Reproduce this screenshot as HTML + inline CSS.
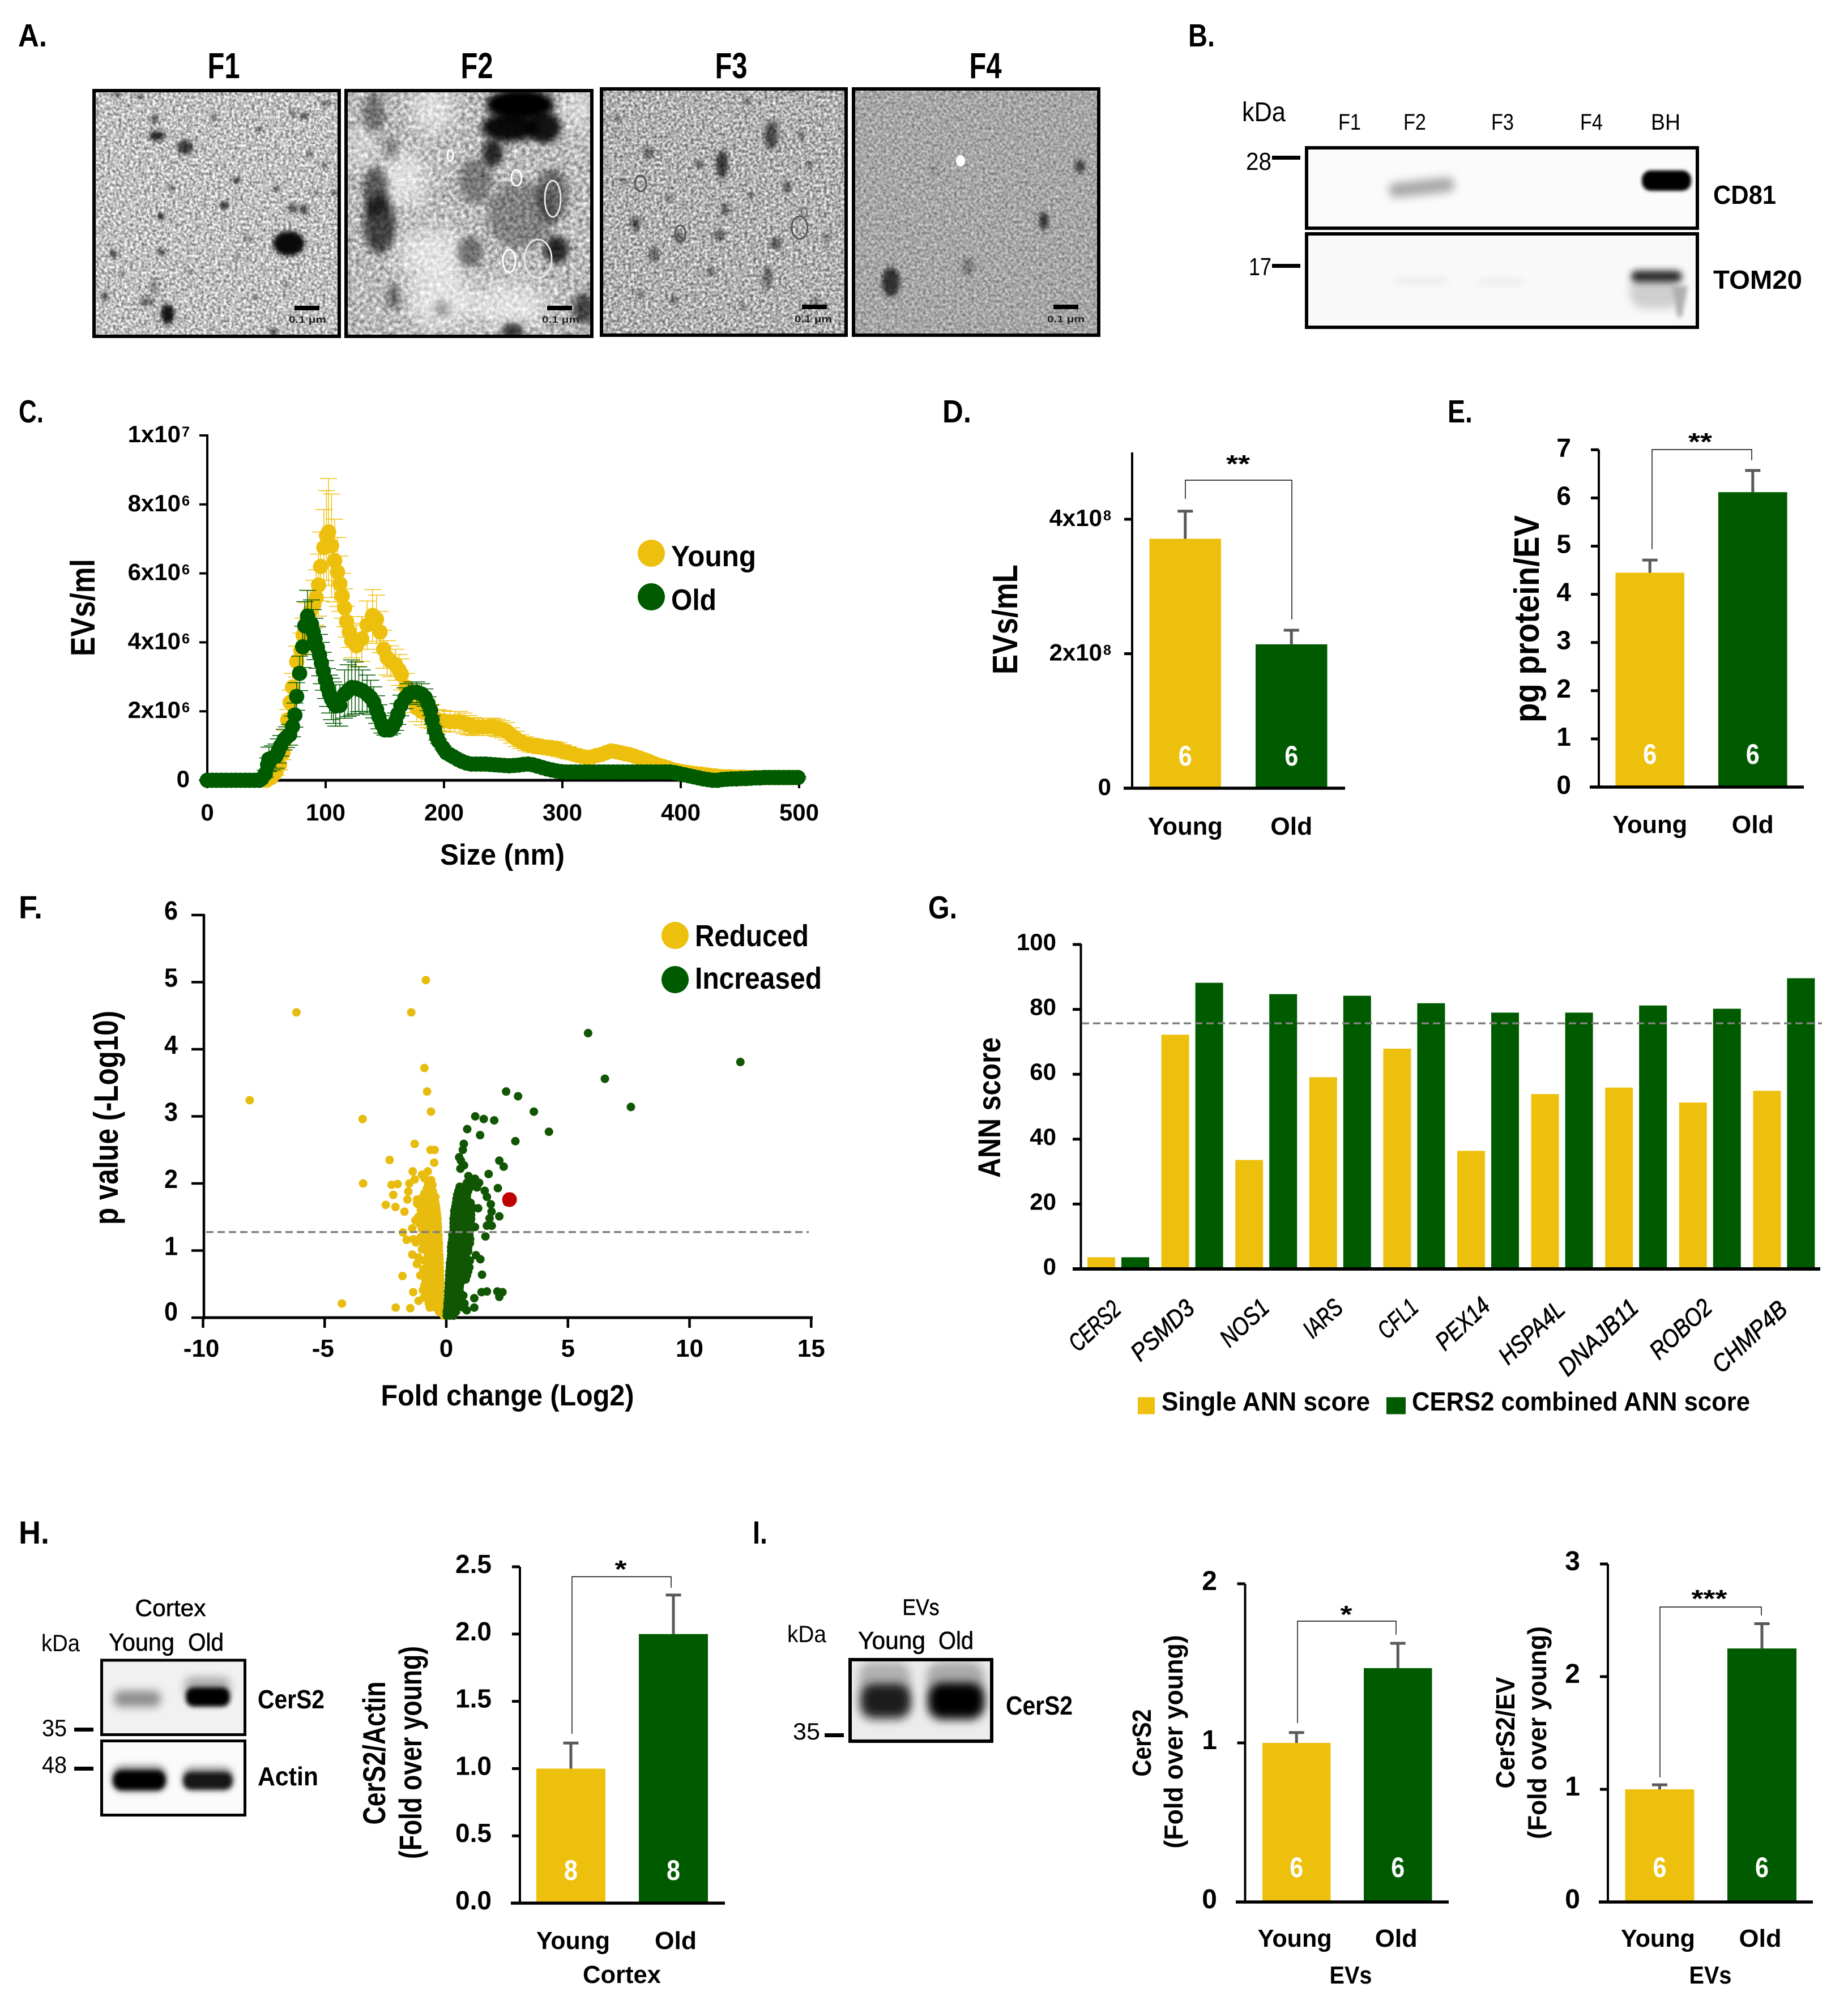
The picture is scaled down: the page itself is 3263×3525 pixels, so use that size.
<!DOCTYPE html>
<html lang="en"><head><meta charset="utf-8"><title>Extracellular vesicle figure panels A-I</title>
<style>
html,body{margin:0;padding:0;background:#fff}
svg{display:block;font-family:"Liberation Sans",sans-serif}
.b{font-weight:bold}
</style></head>
<body>
<svg id="fig" xmlns="http://www.w3.org/2000/svg" width="3263" height="3525" viewBox="0 0 3263 3525">
<defs>
<filter id="noise1" x="0" y="0" width="1" height="1" color-interpolation-filters="sRGB"><feTurbulence type="fractalNoise" baseFrequency="0.2" numOctaves="2" seed="3"/><feColorMatrix values="1.0 0 0 0 0.25 1.0 0 0 0 0.25 1.0 0 0 0 0.25 0 0 0 0 1"/></filter>
<filter id="noise2" x="0" y="0" width="1" height="1" color-interpolation-filters="sRGB"><feTurbulence type="fractalNoise" baseFrequency="0.14" numOctaves="2" seed="8"/><feColorMatrix values="0.8 0 0 0 0.33 0.8 0 0 0 0.33 0.8 0 0 0 0.33 0 0 0 0 1"/></filter>
<filter id="noise3" x="0" y="0" width="1" height="1" color-interpolation-filters="sRGB"><feTurbulence type="fractalNoise" baseFrequency="0.2" numOctaves="2" seed="14"/><feColorMatrix values="1.0 0 0 0 0.19 1.0 0 0 0 0.19 1.0 0 0 0 0.19 0 0 0 0 1"/></filter>
<filter id="noise4" x="0" y="0" width="1" height="1" color-interpolation-filters="sRGB"><feTurbulence type="fractalNoise" baseFrequency="0.2" numOctaves="2" seed="21"/><feColorMatrix values="0.6 0 0 0 0.35 0.6 0 0 0 0.35 0.6 0 0 0 0.35 0 0 0 0 1"/></filter>
<filter id="blur3" x="-80%" y="-80%" width="260%" height="260%"><feGaussianBlur stdDeviation="3"/></filter>
<filter id="blur4" x="-60%" y="-60%" width="220%" height="220%"><feGaussianBlur stdDeviation="4"/></filter>
<filter id="blur6" x="-60%" y="-60%" width="220%" height="220%"><feGaussianBlur stdDeviation="6"/></filter>
<filter id="blur8" x="-60%" y="-60%" width="220%" height="220%"><feGaussianBlur stdDeviation="8"/></filter>
<filter id="blur18" x="-80%" y="-80%" width="260%" height="260%"><feGaussianBlur stdDeviation="18"/></filter>
<clipPath id="clipF1"><rect x="166" y="160" width="433" height="434"/></clipPath>
<clipPath id="clipF2"><rect x="611" y="160" width="434" height="434"/></clipPath>
<clipPath id="clipF3"><rect x="1062" y="157" width="432" height="435"/></clipPath>
<clipPath id="clipF4"><rect x="1507" y="157" width="433" height="435"/></clipPath>
<clipPath id="clipBlotB1"><rect x="2307" y="261" width="690" height="142"/></clipPath>
<clipPath id="clipBlotB2"><rect x="2307" y="413" width="690" height="165"/></clipPath>
<clipPath id="clipBlotH1"><rect x="180" y="2932" width="252" height="131"/></clipPath>
<clipPath id="clipBlotH2"><rect x="180" y="3075" width="252" height="130"/></clipPath>
<clipPath id="clipBlotI"><rect x="1501" y="2931" width="250" height="144"/></clipPath>
</defs>
<rect width="3263" height="3525" fill="#fff"/>

<!-- Panel letters -->
<text class="b" x="32" y="82" font-size="57" textLength="51" lengthAdjust="spacingAndGlyphs">A.</text>
<text class="b" x="2098" y="82" font-size="57" textLength="47" lengthAdjust="spacingAndGlyphs">B.</text>
<text class="b" x="33" y="746" font-size="57" textLength="44" lengthAdjust="spacingAndGlyphs">C.</text>
<text class="b" x="1664" y="746" font-size="57" textLength="51" lengthAdjust="spacingAndGlyphs">D.</text>
<text class="b" x="2556" y="746" font-size="57" textLength="44" lengthAdjust="spacingAndGlyphs">E.</text>
<text class="b" x="33" y="1622" font-size="57" textLength="42" lengthAdjust="spacingAndGlyphs">F.</text>
<text class="b" x="1639" y="1622" font-size="57" textLength="51" lengthAdjust="spacingAndGlyphs">G.</text>
<text class="b" x="33" y="2726" font-size="57" textLength="54" lengthAdjust="spacingAndGlyphs">H.</text>
<text class="b" x="1329" y="2726" font-size="57" textLength="26" lengthAdjust="spacingAndGlyphs">I.</text>

<!-- Panel A -->
<g>
<text class="b" x="395" y="138" font-size="64" text-anchor="middle" textLength="57" lengthAdjust="spacingAndGlyphs">F1</text>
<text class="b" x="842" y="138" font-size="64" text-anchor="middle" textLength="57" lengthAdjust="spacingAndGlyphs">F2</text>
<text class="b" x="1291" y="138" font-size="64" text-anchor="middle" textLength="57" lengthAdjust="spacingAndGlyphs">F3</text>
<text class="b" x="1740" y="138" font-size="64" text-anchor="middle" textLength="57" lengthAdjust="spacingAndGlyphs">F4</text>
<g id="temF1" clip-path="url(#clipF1)"><rect x="166" y="160" width="433" height="434" filter="url(#noise1)"/></g>
<g id="temF2" clip-path="url(#clipF2)"><rect x="611" y="160" width="434" height="434" filter="url(#noise2)"/></g>
<g id="temF3" clip-path="url(#clipF3)"><rect x="1062" y="157" width="432" height="435" filter="url(#noise3)"/></g>
<g id="temF4" clip-path="url(#clipF4)"><rect x="1507" y="157" width="433" height="435" filter="url(#noise4)"/></g>
<rect x="166" y="160" width="433" height="434" fill="none" stroke="#000" stroke-width="6"/>
<rect x="611" y="160" width="434" height="434" fill="none" stroke="#000" stroke-width="6"/>
<rect x="1062" y="157" width="432" height="435" fill="none" stroke="#000" stroke-width="6"/>
<rect x="1507" y="157" width="433" height="435" fill="none" stroke="#000" stroke-width="6"/>
<rect x="520" y="540" width="44" height="8"/>
<text class="b" x="543" y="570" font-size="17" text-anchor="middle" textLength="66" lengthAdjust="spacingAndGlyphs" fill="#222">0.1 μm</text>
<rect x="966" y="540" width="44" height="8"/>
<text class="b" x="990" y="570" font-size="17" text-anchor="middle" textLength="66" lengthAdjust="spacingAndGlyphs" fill="#222">0.1 μm</text>
<rect x="1416" y="538" width="44" height="8"/>
<text class="b" x="1436" y="569" font-size="17" text-anchor="middle" textLength="66" lengthAdjust="spacingAndGlyphs" fill="#222">0.1 μm</text>
<rect x="1860" y="538" width="44" height="8"/>
<text class="b" x="1882" y="569" font-size="17" text-anchor="middle" textLength="66" lengthAdjust="spacingAndGlyphs" fill="#222">0.1 μm</text>
</g>

<!-- Panel B -->
<g>
<text x="2193" y="214" font-size="48" textLength="77" lengthAdjust="spacingAndGlyphs">kDa</text>
<text x="2383" y="229" font-size="40" text-anchor="middle" textLength="40" lengthAdjust="spacingAndGlyphs">F1</text>
<text x="2498" y="229" font-size="40" text-anchor="middle" textLength="40" lengthAdjust="spacingAndGlyphs">F2</text>
<text x="2653" y="229" font-size="40" text-anchor="middle" textLength="40" lengthAdjust="spacingAndGlyphs">F3</text>
<text x="2810" y="229" font-size="40" text-anchor="middle" textLength="40" lengthAdjust="spacingAndGlyphs">F4</text>
<text x="2941" y="229" font-size="40" text-anchor="middle" textLength="52" lengthAdjust="spacingAndGlyphs">BH</text>
<rect x="2307" y="261" width="690" height="142" fill="#fbfbfb"/>
<rect x="2307" y="413" width="690" height="165" fill="#f9f9f9"/>
<g clip-path="url(#clipBlotB1)">
<rect x="2452" y="318" width="116" height="26" rx="12" fill="#a8a8a8" filter="url(#blur8)" transform="rotate(-6 2510 331)"/>
<rect x="2899" y="301" width="87" height="36" rx="16" fill="#000" filter="url(#blur3)"/>
</g>
<g clip-path="url(#clipBlotB2)">
<rect x="2465" y="490" width="90" height="12" rx="5" fill="#ebebeb" filter="url(#blur6)"/>
<rect x="2610" y="492" width="80" height="12" rx="5" fill="#ececec" filter="url(#blur6)"/>
<rect x="2878" y="485" width="90" height="60" rx="25" fill="#cfcfcf" filter="url(#blur8)"/>
<rect x="2880" y="478" width="90" height="20" rx="10" fill="#2a2a2a" filter="url(#blur6)"/>
<polygon points="2952,505 2980,505 2970,560 2962,560" fill="#b0b0b0" filter="url(#blur4)"/>
</g>
<rect x="2307" y="261" width="690" height="142" fill="none" stroke="#000" stroke-width="6"/>
<rect x="2307" y="413" width="690" height="165" fill="none" stroke="#000" stroke-width="6"/>
<text x="2200" y="300" font-size="44" textLength="45" lengthAdjust="spacingAndGlyphs">28</text>
<rect x="2246" y="275" width="50" height="7"/>
<text x="2205" y="486" font-size="44" textLength="40" lengthAdjust="spacingAndGlyphs">17</text>
<rect x="2246" y="466" width="50" height="7"/>
<text class="b" x="3025" y="360" font-size="46" textLength="111" lengthAdjust="spacingAndGlyphs">CD81</text>
<text class="b" x="3025" y="510" font-size="46" textLength="157" lengthAdjust="spacingAndGlyphs">TOM20</text>
</g>

<!-- Panel H blot -->
<g>
<text x="301" y="2854" font-size="42" text-anchor="middle" textLength="125" lengthAdjust="spacingAndGlyphs" stroke="#000" stroke-width="0.6">Cortex</text>
<text x="73" y="2916" font-size="42" textLength="68" lengthAdjust="spacingAndGlyphs">kDa</text>
<text x="192" y="2915" font-size="44" textLength="116" lengthAdjust="spacingAndGlyphs" stroke="#000" stroke-width="0.6">Young</text>
<text x="332" y="2915" font-size="44" textLength="63" lengthAdjust="spacingAndGlyphs" stroke="#000" stroke-width="0.6">Old</text>
<rect x="180" y="2932" width="252" height="131" fill="#f1f1f1"/>
<rect x="180" y="3075" width="252" height="130" fill="#fbfbfb"/>
<g clip-path="url(#clipBlotH1)">
<rect x="201" y="2986" width="83" height="28" rx="12" fill="#8c8c8c" filter="url(#blur8)"/>
<rect x="326" y="2962" width="80" height="36" rx="12" fill="#a8a8a8" filter="url(#blur8)"/>
<rect x="328" y="2980" width="78" height="34" rx="14" fill="#000" filter="url(#blur4)"/>
</g>
<g clip-path="url(#clipBlotH2)">
<rect x="198" y="3118" width="96" height="46" rx="18" fill="#888" filter="url(#blur6)"/>
<rect x="200" y="3127" width="92" height="34" rx="15" fill="#040404" filter="url(#blur4)"/>
<rect x="322" y="3120" width="90" height="42" rx="18" fill="#999" filter="url(#blur6)"/>
<rect x="324" y="3130" width="86" height="30" rx="13" fill="#141414" filter="url(#blur4)"/>
</g>
<rect x="179.5" y="2932" width="253" height="131.5" fill="none" stroke="#000" stroke-width="5"/>
<rect x="179.5" y="3074.5" width="253" height="131" fill="none" stroke="#000" stroke-width="5"/>
<text x="74" y="3066" font-size="42" textLength="44" lengthAdjust="spacingAndGlyphs">35</text>
<rect x="131" y="3051" width="34" height="7"/>
<text x="74" y="3131" font-size="42" textLength="44" lengthAdjust="spacingAndGlyphs">48</text>
<rect x="131" y="3120" width="34" height="7"/>
<text class="b" x="455" y="3017" font-size="46" textLength="118" lengthAdjust="spacingAndGlyphs">CerS2</text>
<text class="b" x="455" y="3153" font-size="46" textLength="107" lengthAdjust="spacingAndGlyphs">Actin</text>
</g>

<!-- Panel I blot -->
<g>
<text x="1626" y="2852" font-size="40" text-anchor="middle" textLength="65" lengthAdjust="spacingAndGlyphs" stroke="#000" stroke-width="0.6">EVs</text>
<text x="1390" y="2900" font-size="42" textLength="69" lengthAdjust="spacingAndGlyphs">kDa</text>
<text x="1515" y="2912" font-size="44" textLength="119" lengthAdjust="spacingAndGlyphs" stroke="#000" stroke-width="0.6">Young</text>
<text x="1657" y="2912" font-size="44" textLength="62" lengthAdjust="spacingAndGlyphs" stroke="#000" stroke-width="0.6">Old</text>
<rect x="1501" y="2931" width="250" height="144" fill="#ececec"/>
<g clip-path="url(#clipBlotI)">
<rect x="1516" y="2935" width="92" height="105" rx="25" fill="#b0b0b0" filter="url(#blur8)"/>
<rect x="1521" y="2974" width="86" height="58" rx="22" fill="#1a1a1a" filter="url(#blur8)"/>
<rect x="1636" y="2935" width="102" height="105" rx="25" fill="#aaa" filter="url(#blur8)"/>
<rect x="1640" y="2972" width="97" height="62" rx="24" fill="#000" filter="url(#blur8)"/>
</g>
<rect x="1501" y="2931" width="250" height="144" fill="none" stroke="#000" stroke-width="6"/>
<text x="1400" y="3072" font-size="42" textLength="48" lengthAdjust="spacingAndGlyphs">35</text>
<rect x="1456" y="3061" width="34" height="7"/>
<text class="b" x="1776" y="3028" font-size="46" textLength="118" lengthAdjust="spacingAndGlyphs">CerS2</text>
</g>

<g id="charts"></g>
</svg>

<script>
/* ---------- Panel C data (size in nm, values in units of 1e6 EVs/ml) ---------- */
const cXTicks=[0,100,200,300,400,500];
const cYTicks=[0,2,4,6,8,10];
const cYTickLabels=['0','2x10^6','4x10^6','6x10^6','8x10^6','1x10^7'];
const youngSizes=[50,54,58,61,64,66,68,70,72,75.5,79,81,84,87,90,92,94,95.7,98.5,100.7,102.5,105,107.6,110,112,114,116,117.7,120,122,126,130.5,135,139.6,143,146,149,152,155,159,162,164,168,172.6,177,181,186,190,195,200,
205,209,213,217,221,225,229,233,237,241,245,249,253,
257,261,265,269,273,277,281,285,289,293,297,301,305,309,313,317,321,
325,329,333,337,341,345,349,353,357,361,365,369,373,377,381,385,389,393,397,401,405,409,413,417,421,425,429,433,437,441,445,449,453,457,461,465,469,473,477,481,485,489,493,497];
const youngValues=[0,.08,.25,.45,.8,1.2,1.75,2.26,2.7,3.44,3.77,4.2,4.6,4.9,5.1,5.3,5.66,6.2,6.75,7.1,7.2,6.8,6.37,6.04,5.7,5.35,5,4.6,4.3,4.05,3.9,4.1,4.5,4.78,4.67,4.3,3.8,3.55,3.45,3.35,3.2,3.07,2.7,2.36,2.1,2,1.93,1.85,1.75,1.72,
1.7,1.7,1.7,1.65,1.6,1.56,1.55,1.55,1.55,1.55,1.52,1.48,1.42,
1.3,1.2,1.12,1.06,1.02,1,.97,.96,.94,.92,.89,.84,.8,.76,.72,.69,.66,
.68,.72,.75,.8,.85,.83,.8,.77,.74,.7,.65,.6,.55,.49,.44,.4,.36,.31,.28,.25,.23,.21,.19,.18,.16,.14,.13,.11,.1,.1,.09,.09,.09,.08,.08,.08,.08,.08,.08,.08,.08,.08,.08,.08];
const youngErrors=[0,.05,.1,.15,.2,.25,.3,.35,.4,.45,.5,.5,.55,.6,.7,.8,.9,1,1.1,1.3,1.55,1.5,1.2,1,.8,.65,.55,.45,.45,.5,.6,.65,.7,.75,.7,.6,.55,.5,.45,.45,.45,.45,.4,.4,.4,.4,.4,.35,.3,.3,
.3,.3,.3,.3,.28,.26,.25,.25,.25,.25,.25,.25,.25,
.22,.22,.2,.2,.2,.2,.2,.2,.2,.2,.2,.19,.18,.16,.13,.1,.08,
.08,.08,.08,.09,.1,.1,.1,.09,.08,.08,.08,.08,.08,.08,.08,.08,.07,.07,.06,.06,.05,.05,.05,.05,.04,.04,.04,.03,.03,.03,.03,.03,.03,.03,.02,.02,.02,.02,.02,.02,.02,.02,.02,.02];
const oldSizes=[0,4,8,12,16,20,24,28,32,36,40,44,
46,49,51,52,55,58,60,62,65,67,69.6,72,74,75.5,78,80.6,82.4,84.7,88,89.5,91,93,94.8,96.4,98,99.8,101.6,103.3,105,106.7,108.5,112,116,119,122,125,128,131,135,138,140.6,143,145,147.5,150,154,156.5,159,161,163.5,167,170,173,177,181,184,186.5,188.6,190,192,194,195.5,199,202,
205,208,211.5,215,219,223,227,231,235,239,243,247,251,255,259,263,267,271,275,279,283,287,291,295,299,303,
307,311,315,319,323,327,331,335,339,343,347,351,355,359,363,367,371,375,379,383,387,391,
395,399,403,407,411,415,419,423,427,431,435,439,443,447,451,455,459,463,467,471,475,479,483,487,491,495,499];
const oldValues=[0,0,0,0,0,0,0,0,0,0,0,0,
.05,.19,.45,.61,.65,.7,.85,1,1.18,1.25,1.32,1.56,1.89,2.43,3.1,3.87,4.48,4.76,4.53,4.3,4.1,3.85,3.63,3.4,3.16,2.92,2.69,2.5,2.36,2.25,2.17,2.17,2.5,2.6,2.69,2.68,2.64,2.6,2.5,2.4,2.26,2.05,1.84,1.62,1.46,1.46,1.55,1.7,1.92,2.17,2.38,2.5,2.55,2.55,2.5,2.4,2.22,2.03,1.75,1.46,1.25,1.13,.95,.8,
.74,.68,.61,.55,.5,.47,.47,.47,.47,.46,.45,.44,.43,.42,.43,.44,.46,.47,.45,.41,.37,.33,.3,.27,.25,.24,
.24,.24,.24,.24,.24,.24,.24,.24,.24,.24,.24,.24,.24,.24,.24,.24,.24,.24,.24,.24,.24,.24,
.22,.19,.16,.13,.1,.07,.04,.02,0,0,.02,.03,.04,.04,.05,.05,.06,.07,.07,.08,.08,.08,.08,.08,.08,.08,.08];
const oldErrors=[0,0,0,0,0,0,0,0,0,0,0,0,
.03,.1,.2,.35,.35,.35,.35,.3,.3,.3,.3,.3,.35,.4,.5,.6,.7,.75,.7,.65,.6,.6,.6,.6,.55,.55,.55,.55,.6,.6,.6,.6,.7,.75,.8,.75,.65,.6,.55,.5,.45,.4,.35,.25,.15,.15,.2,.25,.3,.3,.3,.3,.3,.3,.3,.25,.2,.15,.12,.1,.08,.06,.05,.05,
.05,.05,.05,.04,.04,.04,.04,.04,.04,.04,.04,.04,.04,.04,.04,.04,.04,.04,.04,.04,.03,.03,.03,.03,.03,.03,
.03,.03,.03,.03,.03,.03,.03,.03,.03,.03,.03,.03,.03,.03,.03,.03,.03,.03,.03,.03,.03,.03,
.03,.03,.03,.03,.03,.03,.03,.03,.03,.03,.03,.03,.03,.03,.03,.03,.03,.03,.03,.03,.03,.03,.03,.03,.03,.03,.03];

/* ---------- Panel D ---------- */
const dCategories=['Young','Old'];
const dValues=[3.71,2.14];
const dErrors=[.41,.21];
const dCounts=['6','6'];
const dTicks=[0,2,4];
const dTickLabels=['0','2x10^8','4x10^8'];

/* ---------- Panel E ---------- */
const eCategories=['Young','Old'];
const eValues=[4.45,6.12];
const eErrors=[.26,.45];
const eCounts=['6','6'];
const eTicks=[0,1,2,3,4,5,6,7];
const eTickLabels=['0','1','2','3','4','5','6','7'];

/* ---------- Panel F ---------- */
const fXTicks=[-10,-5,0,5,10,15];
const fYTicks=[0,1,2,3,4,5,6];
const fThreshold=1.275;
const reducedFC=[-.84,-6.16,-1.44,-8.08,-.9,-.79,-.63,-3.44,-1.3,-.65,-.48,-2.33,-.5,-3.42,-4.29,-2.08,-1.48,
-1.36,-1.14,-.96,-1.07,-1.8,-1.21,-1.4,-1.15,-1.63,-1.36,-1.25,-1.78,-1.4,-1.27,-1.72,-2.09,-2.49,-2.18,-2.25,-2,-1.56,-1.6,-1.52,-1.3,-1.38,-1,-.9,-.76,-.57,-1.2,-.9,-.5,
-.1,-.12,-.3,-.25,-.45,-.68,-.28,-.5,-.72,-.25,-.48,-.7,-.27,-.5,-.72,-.25,-.47,-.7,-.25,-.48,-.7,-.25,-.5,-.72,-.25,-.47,-.7,-.26,-.5,-.73,-.26,-.48,-.7,-.27,-.5,-.72,-.27,-.5,-.75,-.28,-.5,-.73,-.28,-.52,-.75,-.3,-.55,-.8,-.3,-.53,-.8,-.3,-.55,-.85,-.32,-.55,-.8,-.32,-.55,-.85,-.34,-.58,-.9,-.34,-.6,-.85,-.36,-.6,-.9,-.36,-.62,-.9,-.38,-.62,-.95,-.4,-.65,-.95,-.42,-.7,-1.05,-.45,-.7,-1,-.48,-.75,-1.05,-.55,-.9,
-1,-.95,-1.05,-1,-1.1,-1.15,-1.05,-1.2,-.95,-1,-.92,-.9,-.88,-.95,-.9,-.85,-.8,-.55,-.6,-.42,-.45,-.85,-.75,-.62];
const reducedP=[5.03,4.55,4.55,3.24,3.72,3.37,3.07,2.96,2.59,2.5,2.5,2.35,2.31,2,.21,.15,.14,
.38,.25,.41,.63,.62,.8,.94,.9,1.16,1.17,1.12,1.27,1.33,1.45,1.58,1.65,1.68,1.83,1.98,1.99,1.88,1.76,2,2.06,2.18,2.13,2.08,2.18,1.98,1.76,1.85,1.78,
.03,.09,.09,.15,.15,.15,.21,.21,.21,.27,.27,.27,.33,.33,.33,.39,.39,.39,.45,.45,.45,.51,.51,.51,.57,.57,.57,.63,.63,.63,.69,.69,.69,.75,.75,.75,.81,.81,.81,.87,.87,.87,.93,.93,.93,.99,.99,.99,1.05,1.05,1.05,1.11,1.11,1.11,1.17,1.17,1.17,1.23,1.23,1.23,1.29,1.29,1.29,1.35,1.35,1.35,1.41,1.41,1.41,1.47,1.47,1.47,1.53,1.53,1.53,1.59,1.59,1.59,1.65,1.65,1.65,1.71,1.71,1.71,1.77,1.77,1.77,1.83,1.83,
1.02,1.12,1.2,1.32,1.4,1.5,1.6,1.7,1.8,1.52,.3,.48,.62,.72,.85,.55,1.92,1.88,1.95,1.62,1.8,1.75,2,2.05];
const increasedFC=[5.83,12.09,6.52,7.59,2.46,2.95,3.6,4.22,1.19,1.54,1.97,.86,1.39,2.84,.72,.68,.53,.6,.73,.58,2.18,2.36,1.74,2.12,.91,1.18,1.35,1.26,1.58,1.67,1.83,1.86,1.78,1.67,1.87,2.18,1.61,1.31,1.18,1.22,1.4,.97,1.47,1.45,1.67,2.1,2.31,2.18,1.15,1.15,.84,2.5,
.02,.15,.3,.02,.2,.4,.05,.25,.45,.7,.05,.25,.45,.75,.07,.27,.5,.08,.3,.5,.7,.08,.3,.55,.1,.3,.55,.1,.32,.58,.12,.35,.6,.8,.12,.35,.6,.85,.13,.38,.62,.9,.15,.4,.65,.95,.15,.4,.68,.18,.42,.65,.2,.42,.65,.8,.2,.45,.7,.9,.2,.45,.7,.9,.22,.48,.72,.97,.25,.5,.75,.98,.25,.5,.75,.95,.3,.52,.75,.95,.3,.52,.75,1,.3,.55,.8,1,.3,.55,.8,1.02,.33,.55,.8,1.02,.33,.58,.82,1.02,.37,.6,.85,1.05,.4,.62,.82,1,.42,.62,.85,.45,.65,.85,.5,.7,.9,.55,.72,1,.85,1.1];
const increasedP=[4.24,3.81,3.56,3.14,3.37,3.3,3.07,2.77,3,2.96,2.94,2.81,2.72,2.63,2.59,2.5,2.39,2.34,2.27,2.22,2.34,2.25,2.14,1.93,2.11,2.07,2.01,1.94,1.89,1.8,1.69,1.58,1.48,1.37,1.37,1.51,1.21,1.63,1.35,.93,.87,.85,.64,.38,.39,.39,.38,.31,.29,.15,.11,1.72,
.03,.03,.03,.09,.09,.09,.15,.15,.15,.15,.21,.21,.21,.21,.27,.27,.27,.33,.33,.33,.33,.39,.39,.39,.45,.45,.45,.51,.51,.51,.57,.57,.57,.57,.63,.63,.63,.63,.69,.69,.69,.69,.75,.75,.75,.75,.81,.81,.81,.87,.87,.87,.93,.93,.93,.93,.99,.99,.99,.99,1.05,1.05,1.05,1.05,1.11,1.11,1.11,1.11,1.17,1.17,1.17,1.17,1.23,1.23,1.23,1.23,1.29,1.29,1.29,1.29,1.35,1.35,1.35,1.35,1.41,1.41,1.41,1.41,1.47,1.47,1.47,1.47,1.53,1.53,1.53,1.53,1.59,1.59,1.59,1.59,1.65,1.65,1.65,1.65,1.71,1.71,1.71,1.71,1.77,1.77,1.77,1.83,1.83,1.83,1.89,1.89,1.89,1.95,1.95,1.95,2.01,2.01];
const highlightFC=[2.6];
const highlightP=[1.76];

/* ---------- Panel G ---------- */
const gGenes=['CERS2','PSMD3','NOS1','IARS','CFL1','PEX14','HSPA4L','DNAJB11','ROBO2','CHMP4B'];
const gSingle=[3.6,72.2,33.6,59.1,67.9,36.4,53.9,55.9,51.3,54.9];
const gCombined=[3.6,88.2,84.7,84.2,81.9,79,79,81.2,80.2,89.6];
const gYTicks=[0,20,40,60,80,100];
const gThreshold=75.7;

/* ---------- Panel H ---------- */
const hCategories=['Young','Old'];
const hValues=[1,2];
const hErrors=[.19,.29];
const hCounts=['8','8'];
const hTicks=[0,.5,1,1.5,2,2.5];
const hTickLabels=['0.0','0.5','1.0','1.5','2.0','2.5'];

/* ---------- Panel I ---------- */
const i1Categories=['Young','Old'];
const i1Values=[1,1.47];
const i1Errors=[.065,.156];
const i1Counts=['6','6'];
const i1Ticks=[0,1,2];
const i1TickLabels=['0','1','2'];
const i2Categories=['Young','Old'];
const i2Values=[1,2.25];
const i2Errors=[.04,.22];
const i2Counts=['6','6'];
const i2Ticks=[0,1,2,3];
const i2TickLabels=['0','1','2','3'];

/* ---------- EM image particles: cx, cy, rx, ry, opacity ---------- */
const temDarkF1=[[510,430,28,22,.95],[296,555,12,18,.9],[327,260,14,13,.7],[277,240,14,9,.8],[417,319,6,5,.8],[396,363,8,7,.7],[284,382,6,6,.8],[200,448,7,7,.6],[285,445,8,6,.55],[185,523,6,7,.65],[273,507,6,14,.4],[260,533,14,8,.45],[517,368,9,9,.5],[537,370,8,9,.55],[538,205,7,6,.6],[517,200,6,5,.55],[575,182,10,4,.55],[458,228,6,5,.5],[273,210,7,7,.55],[590,340,5,5,.6],[488,333,6,5,.55],[557,340,6,4,.4],[303,332,6,6,.45],[437,422,7,7,.35],[483,585,6,6,.7],[207,168,6,5,.5],[247,170,6,5,.5],[377,207,6,7,.4],[572,292,6,4,.55],[548,272,6,6,.4],[215,484,5,5,.4],[336,480,6,4,.4],[420,455,6,6,.3],[505,503,5,5,.45],[450,525,6,5,.35]];
const temDarkF3=[[1362,239,12,25,.6],[1275,290,10,25,.7],[1122,395,7,12,.7],[1145,270,10,12,.4],[1235,290,7,8,.45],[1390,330,7,10,.5],[1280,370,6,12,.55],[1200,420,10,10,.4],[1270,415,10,10,.45],[1155,450,8,14,.5],[1355,490,8,20,.45],[1370,430,10,10,.5],[1415,240,6,8,.4],[1190,530,7,8,.4],[1255,480,7,9,.4],[1090,210,6,7,.35],[1320,180,6,7,.35],[1430,290,6,7,.4],[1100,320,6,6,.35],[1180,350,6,6,.4],[1325,345,6,6,.4],[1460,420,6,7,.4],[1440,530,6,6,.4],[1130,520,6,7,.4],[1310,540,6,6,.35]];
const temDarkF4=[[1907,294,9,12,.6],[1843,390,8,16,.7],[1573,498,16,26,.7],[1709,471,10,16,.3],[1650,300,8,10,.12]];
const temDarkF2=[[918,185,60,28,1],[900,225,50,25,.95],[960,225,30,28,.9],[870,270,18,25,.8],[663,339,22,45,.55],[670,396,28,52,.65],[982,441,22,24,.8],[660,200,20,35,.4],[690,260,12,20,.35],[840,320,30,40,.35],[920,380,60,60,.3],[975,345,28,48,.45],[830,445,22,28,.45],[695,525,12,22,.45],[780,545,14,14,.3],[905,585,20,14,.75],[1030,545,18,28,.65]];
const temLightF2=[[714,318,40,50],[765,449,65,45],[778,530,60,50],[765,192,34,44],[1022,192,22,40],[640,260,16,40],[900,540,70,40]];
const temRings=[[912,314,9,14,'#fff'],[976,351,14,32,'#e6e6e6'],[950,457,24,34,'#e6e6e6'],[899,461,11,20,'#fff'],[795,275,5,10,'#fff'],[1131,324,10,14,'#555'],[1201,412,9,14,'#555'],[1412,402,14,20,'#555'],[1420,375,5,8,'#777']];
const temSpots=[[1696,284,8,10]];

/* ---------- helpers ---------- */
const NS='http://www.w3.org/2000/svg';
const YELLOW='#EEC00E', GREEN='#005A00';
const root=document.getElementById('charts');
function el(tag,attrs,parent){
  const e=document.createElementNS(NS,tag);
  for(const k in attrs) e.setAttribute(k,attrs[k]);
  (parent||root).appendChild(e);
  return e;
}
function group(name,parent){
  const g=el('g',{},parent);
  
  
  return g;
}
function label(parent,name,str,x,y,size,o){
  o=o||{};
  const a={x:x,y:y,'font-size':size,'text-anchor':o.anchor||'middle','font-weight':o.weight||'bold',fill:o.fill||'#000'};
  if(o.len){a.textLength=o.len;a.lengthAdjust='spacingAndGlyphs';}
  if(o.rot!==undefined)a.transform='rotate('+o.rot+' '+x+' '+y+')';
  if(o.italic)a['font-style']='italic';
  if(o.stroke){a.stroke=o.fill||'#000';a['stroke-width']=o.stroke;}
  const t=el('text',a,parent);
  t.textContent=str;
  
  
  return t;
}
function line(parent,name,x1,y1,x2,y2,color,w,dash){
  const a={x1:x1,y1:y1,x2:x2,y2:y2,stroke:color,'stroke-width':w};
  if(dash)a['stroke-dasharray']=dash;
  const l=el('line',a,parent);
  
  
  return l;
}
function dot(parent,name,cx,cy,r,color){
  const c=el('circle',{cx:cx,cy:cy,r:r,fill:color},parent);
  
  
  return c;
}
function tickLabel(parent,str,rightX,baseY,size){
  const parts=str.split('^');
  if(parts.length===2){
    label(parent,'y-tick-label',parts[0],rightX-16,baseY,size,{anchor:'end'});
    label(parent,'y-tick-exponent',parts[1],rightX,baseY-10,size*.6,{anchor:'end'});
  }else{
    label(parent,'y-tick-label',str,rightX,baseY,size,{anchor:'end'});
  }
}

/* ---------- EM image decoration ---------- */
function drawTem(id,dark,smallBlur,largeBlur){
  const g=document.getElementById(id);
  dark.forEach(function(b){
    const big=Math.max(b[2],b[3])>=11;
    const e=el('ellipse',{cx:b[0],cy:b[1],rx:b[2],ry:b[3],fill:'#050505','fill-opacity':b[4],filter:'url(#'+(big?largeBlur:smallBlur)+')'},g);
    
    
  });
}
(function(){
  const f2=document.getElementById('temF2');
  temLightF2.forEach(function(b){
    const e=el('ellipse',{cx:b[0],cy:b[1],rx:b[2],ry:b[3],fill:'#fff','fill-opacity':.6,filter:'url(#blur18)'},f2);
    
    
  });
  drawTem('temF1',temDarkF1,'blur3','blur4');
  drawTem('temF2',temDarkF2,'blur6','blur6');
  drawTem('temF3',temDarkF3,'blur3','blur4');
  drawTem('temF4',temDarkF4,'blur3','blur4');
  temRings.forEach(function(b){
    const parentId=b[0]<1050?'temF2':'temF3';
    const e=el('ellipse',{cx:b[0],cy:b[1],rx:b[2],ry:b[3],fill:'none',stroke:b[4],'stroke-width':3},document.getElementById(parentId));
    
    
  });
  temSpots.forEach(function(b){
    const e=el('ellipse',{cx:b[0],cy:b[1],rx:b[2],ry:b[3],fill:'#fff'},document.getElementById('temF4'));
    
    
  });
})();

/* ---------- Panel C chart ---------- */
(function(){
  const g=group('size-distribution-chart-c');
  const xS=function(v){return 366+v*2.09;};
  const yS=function(v){return 1378-v*60.9;};
  line(g,'y-axis',366,767,366,1380,'#000',4);
  line(g,'x-axis',364,1378,1411,1378,'#000',5);
  cYTicks.forEach(function(v,i){
    line(g,'y-tick',352,yS(v),366,yS(v),'#000',4);
    tickLabel(g,cYTickLabels[i],335,yS(v)+12,42);
  });
  cXTicks.forEach(function(v){
    line(g,'x-tick',xS(v),1378,xS(v),1392,'#000',4);
    label(g,'x-tick-label',String(v),xS(v),1449,42);
  });
  label(g,'y-axis-title','EVs/ml',167,1073,60,{rot:-90,len:172});
  label(g,'x-axis-title','Size (nm)',887,1527,52,{len:220});
  function series(name,sizes,vals,errs,color,r){
    const s=group(name,g);
    sizes.forEach(function(v,i){
      const x=xS(v),t=yS(vals[i]+errs[i]),b=yS(Math.max(0,vals[i]-errs[i]));
      line(s,'error-bar',x,t,x,b,color,1.5);
      line(s,'error-cap',x-15,t,x+15,t,color,1.5);
      line(s,'error-cap',x-15,b,x+15,b,color,1.5);
    });
    sizes.forEach(function(v,i){
      dot(s,'point',xS(v),yS(vals[i]),r,color);
    });
  }
  series('series-young',youngSizes,youngValues,youngErrors,YELLOW,13.5);
  series('series-old',oldSizes,oldValues,oldErrors,GREEN,13.5);
  dot(g,'legend-marker-young',1150,977,24,YELLOW);
  label(g,'legend-label-young','Young',1185,1000,52,{anchor:'start',len:150});
  dot(g,'legend-marker-old',1150,1054,24,GREEN);
  label(g,'legend-label-old','Old',1185,1077,52,{anchor:'start',len:80});
})();

/* ---------- generic bar chart ---------- */
function barChart(c){
  const g=group(c.name);
  const yS=function(v){return c.base-v*c.unit;};
  c.ticks.forEach(function(v,i){
    if(v!==0||c.zeroTick) line(g,'y-tick',c.axisX-14,yS(v),c.axisX,yS(v),'#000',5);
    tickLabel(g,c.tickLabels[i],c.labelRight,yS(v)+c.labelDy,c.tickSize);
  });
  c.values.forEach(function(v,i){
    const x=c.barStart+i*c.barStep,cx=x+c.barW/2;
    const b=el('rect',{x:x,y:yS(v),width:c.barW,height:c.base-yS(v),fill:i===0?YELLOW:GREEN},g);
    
    
    const top=yS(v+c.errors[i]);
    line(g,'error-bar',cx,yS(v),cx,top,'#595959',5);
    line(g,'error-cap',cx-13.5,top,cx+13.5,top,'#595959',5);
    label(g,'sample-count',c.counts[i],cx,c.countY,c.countSize||50,{fill:'#fff',len:24});
    label(g,'category-label',c.categories[i],cx+c.catDx,c.catY,c.catSize||44,{len:i===0?c.catW[0]:c.catW[1]});
  });
  line(g,'y-axis',c.axisX,c.axisTop,c.axisX,c.base+2,'#000',4);
  line(g,'x-axis',c.baseLeft,c.base,c.baseRight,c.base,'#000',5.5);
  const bp='M'+c.brX1+' '+c.brB1+'V'+c.brY+'H'+c.brX2+'V'+c.brB2;
  const br=el('path',{d:bp,fill:'none',stroke:'#000','stroke-width':1.4},g);
  
  
  label(g,'significance-stars',c.stars,c.starX,c.starY,44,{len:c.stars.length*21});
  c.titles.forEach(function(t){
    label(g,'y-axis-title',t.text,t.x,t.y,t.size||58,{rot:-90,len:t.len});
  });
  if(c.groupLabel) label(g,'group-label',c.groupLabel.text,c.groupLabel.x,c.groupLabel.y,44,{len:c.groupLabel.len});
}
barChart({name:'ev-concentration-chart-d',categories:dCategories,values:dValues,errors:dErrors,counts:dCounts,ticks:dTicks,tickLabels:dTickLabels,
  axisX:1999,axisTop:799,base:1392,unit:118.75,baseLeft:1984,baseRight:2375,labelRight:1962,labelDy:12,tickSize:42,barStart:2029.5,barStep:187.5,barW:126.5,countY:1352,catDx:0,catY:1474,catW:[132,74],
  brX1:2093,brX2:2281,brY:848,brB1:881,brB2:1094,stars:'**',starX:2186,starY:834,titles:[{text:'EVs/mL',x:1796,y:1094,len:194,size:62}]});
barChart({name:'protein-per-ev-chart-e',categories:eCategories,values:eValues,errors:eErrors,counts:eCounts,ticks:eTicks,tickLabels:eTickLabels,
  axisX:2823,axisTop:794,base:1390,unit:85.1,baseLeft:2807,baseRight:3185,labelRight:2774,labelDy:12,tickSize:46,barStart:2852.4,barStep:181.6,barW:121.6,countY:1349,catDx:0,catY:1471,catW:[132,74],
  brX1:2917,brX2:3093,brY:794,brB1:970,brB2:813,stars:'**',starX:3002,starY:795,titles:[{text:'pg protein/EV',x:2717,y:1093,len:366,size:62}]});
barChart({name:'cers2-actin-chart-h',categories:hCategories,values:hValues,errors:hErrors,counts:hCounts,ticks:hTicks,tickLabels:hTickLabels,zeroTick:false,
  axisX:918,axisTop:2767,base:3361,unit:237.6,baseLeft:902,baseRight:1280,labelRight:868,labelDy:11,tickSize:46,barStart:947,barStep:181,barW:122,countY:3320,catDx:4,catY:3442,catW:[130,74],
  brX1:1010,brX2:1185,brY:2784.5,brB1:3062,brB2:2804,stars:'*',starX:1096,starY:2786,groupLabel:{text:'Cortex',x:1098,y:3502,len:138},
  titles:[{text:'CerS2/Actin',x:680,y:3096,len:253,size:56},{text:'(Fold over young)',x:744,y:3095,len:376,size:56}]});
barChart({name:'cers2-evs-chart-i',categories:i1Categories,values:i1Values,errors:i1Errors,counts:i1Counts,ticks:i1Ticks,tickLabels:i1TickLabels,
  axisX:2198.5,axisTop:2797,base:3359,unit:281,baseLeft:2182,baseRight:2558,labelRight:2149,labelDy:11,tickSize:48,barStart:2229,barStep:179,barW:120.5,countY:3315,catDx:-3,catY:3438,catW:[131,75],
  brX1:2291,brX2:2465,brY:2863,brB1:3043,brB2:2887,stars:'*',starX:2377,starY:2866,groupLabel:{text:'EVs',x:2385,y:3503,len:75},
  titles:[{text:'CerS2',x:2032,y:3078,len:119,size:46},{text:'(Fold over young)',x:2088,y:3076,len:377,size:46}]});
barChart({name:'cers2-per-ev-chart-i',categories:i2Categories,values:i2Values,errors:i2Errors,counts:i2Counts,ticks:i2Ticks,tickLabels:i2TickLabels,
  axisX:2839,axisTop:2762,base:3359,unit:199,baseLeft:2823,baseRight:3201,labelRight:2790,labelDy:11,tickSize:48,barStart:2869.5,barStep:180.5,barW:122,countY:3315,catDx:-3,catY:3438,catW:[131,75],
  brX1:2931,brX2:3110,brY:2838,brB1:3139,brB2:2853,stars:'***',starX:3018,starY:2838,groupLabel:{text:'EVs',x:3020,y:3503,len:75},
  titles:[{text:'CerS2/EV',x:2674,y:3060,len:197,size:46},{text:'(Fold over young)',x:2730,y:3060,len:376,size:46}]});

/* ---------- Panel F volcano ---------- */
(function(){
  const g=group('volcano-chart-f');
  const xS=function(v){return 788+v*42.95;};
  const yS=function(v){return 2327-v*118.5;};
  line(g,'y-axis',360,1614,360,2330,'#000',4.5);
  line(g,'x-axis',360,2327,1435,2327,'#000',5);
  fYTicks.forEach(function(v){
    line(g,'y-tick',338,yS(v),360,yS(v),'#000',4.5);
    label(g,'y-tick-label',String(v),302,yS(v)+(v===0?5:8),46,{len:24});
  });
  fXTicks.forEach(function(v){
    line(g,'x-tick',xS(v),2327,xS(v),2345,'#000',4.5);
    label(g,'x-tick-label',String(v),xS(v)-(v<0?3:0),2396,44);
  });
  label(g,'y-axis-title','p value (-Log10)',208,1974,60,{rot:-90,len:378});
  label(g,'x-axis-title','Fold change (Log2)',896,2482,52,{len:447});
  const r=group('series-reduced',g);
  reducedFC.forEach(function(v,i){
    dot(r,'point-reduced',xS(v),yS(reducedP[i]),7.5,'#E8BC0E');
  });
  const n=group('series-increased',g);
  increasedFC.forEach(function(v,i){
    dot(n,'point-increased',xS(v),yS(increasedP[i]),7.5,'#115602');
  });
  highlightFC.forEach(function(v,i){
    dot(g,'point-highlight-cers2',xS(v),yS(highlightP[i]),13,'#C00000');
  });
  line(g,'significance-threshold',364,yS(fThreshold),1428,yS(fThreshold),'#808080',3.5,'13 7');
  dot(g,'legend-marker-reduced',1192,1652,24,YELLOW);
  label(g,'legend-label-reduced','Reduced',1227,1671,54,{anchor:'start',len:201});
  dot(g,'legend-marker-increased',1192,1730,24,GREEN);
  label(g,'legend-label-increased','Increased',1227,1746,54,{anchor:'start',len:224});
})();

/* ---------- Panel G ---------- */
(function(){
  const g=group('ann-score-chart-g');
  const yS=function(v){return 2241-v*5.73;};
  const xAt=function(i){return 1920+i*130.6;};
  gYTicks.forEach(function(v){
    if(v>0) line(g,'y-tick',1894,yS(v),1909,yS(v),'#000',5);
    label(g,'y-tick-label',String(v),1865,yS(v)+10,42,{anchor:'end'});
  });
  const ends=[[1982,2316,107],[2112,2314,135],[2244,2313,100],[2374,2313,77],[2507,2313,79],[2634,2310,113],[2766,2316,141],[2896,2313,175],[3026,2313,132],[3159,2316,163]];
  gGenes.forEach(function(name,i){
    const a=el('rect',{x:xAt(i),y:yS(gSingle[i]),width:49,height:2241-yS(gSingle[i]),fill:YELLOW},g);
    
    
    const b=el('rect',{x:xAt(i)+60,y:yS(gCombined[i]),width:49,height:2241-yS(gCombined[i]),fill:GREEN},g);
    
    
    label(g,'gene-label-'+name.toLowerCase(),name,ends[i][0],ends[i][1],44,{anchor:'end',italic:true,rot:-43,len:ends[i][2],weight:'normal',stroke:.8});
  });
  line(g,'y-axis',1908.5,1667,1908.5,2243,'#000',4);
  line(g,'x-axis',1894,2241,3214,2241,'#000',6);
  line(g,'threshold-line',1910,yS(gThreshold),3217,yS(gThreshold),'#808080',3.5,'13 7');
  label(g,'y-axis-title','ANN score',1766,1956,56,{rot:-90,len:248});
  const s1=el('rect',{x:2009,y:2467.5,width:30,height:30,fill:YELLOW},g);
  
  
  label(g,'legend-label-single','Single ANN score',2051,2491,46,{anchor:'start',len:368});
  const s2=el('rect',{x:2448,y:2467.5,width:34,height:30,fill:GREEN},g);
  
  
  label(g,'legend-label-combined','CERS2 combined ANN score',2493,2491,46,{anchor:'start',len:597});
})();
</script>
</body></html>
